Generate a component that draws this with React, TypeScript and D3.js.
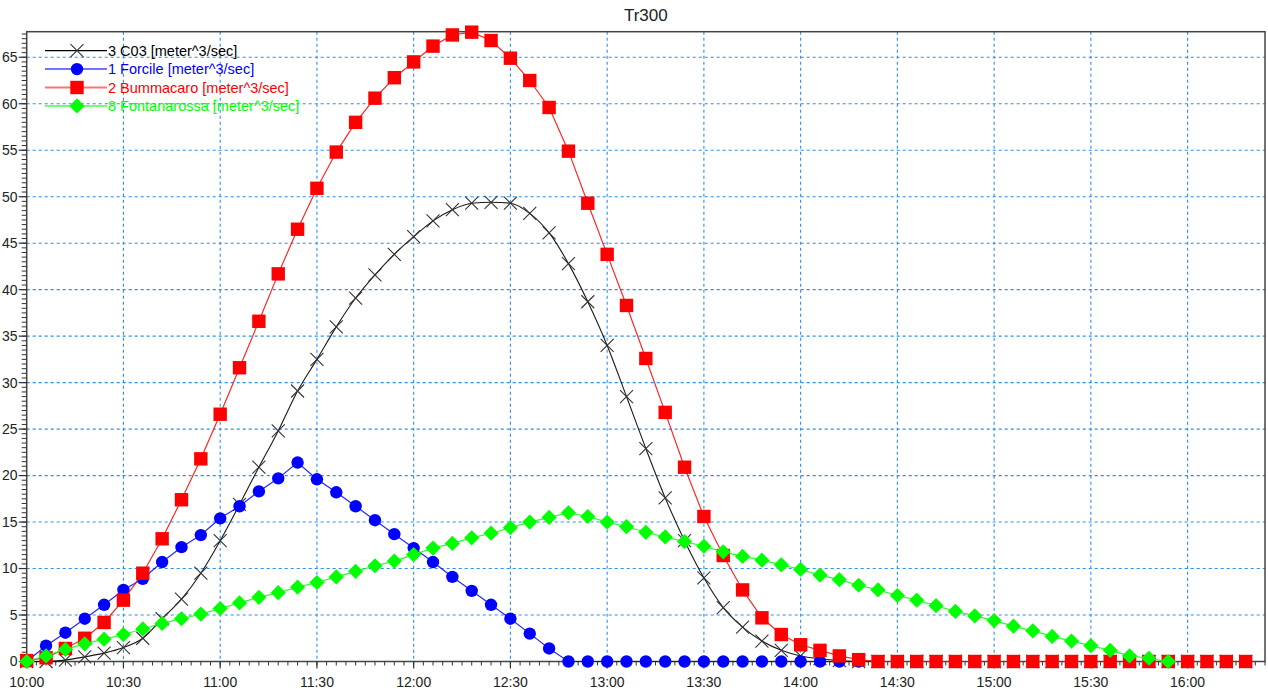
import React from "react";
import * as d3 from "d3";

const times = [
  "10:00","10:06","10:12","10:18","10:24","10:30","10:36","10:42","10:48","10:54",
  "11:00","11:06","11:12","11:18","11:24","11:30","11:36","11:42","11:48","11:54",
  "12:00","12:06","12:12","12:18","12:24","12:30","12:36","12:42","12:48","12:54",
  "13:00","13:06","13:12","13:18","13:24","13:30","13:36","13:42","13:48","13:54",
  "14:00","14:06","14:12","14:18","14:24","14:30","14:36","14:42","14:48","14:54",
  "15:00","15:06","15:12","15:18","15:24","15:30","15:36","15:42","15:48","15:54",
  "16:00","16:06","16:12","16:18",
];

const c03 = [
  0, 0, 0.15, 0.5, 0.9, 1.5, 2.5, 4.6, 6.7, 9.5,
  13.0, 16.9, 20.9, 24.8, 29.1, 32.5, 36.0, 39.1, 41.6, 43.8,
  45.7, 47.4, 48.6, 49.3, 49.4, 49.3, 48.2, 46.1, 42.8, 38.7,
  34.0, 28.5, 22.9, 17.6, 13.0, 9.0, 5.8, 3.7, 2.2, 1.2,
  0.6, 0.3, 0.1, 0, 0, 0, 0, 0, 0, 0,
  0, 0, 0, 0, 0, 0, 0, 0, 0, 0,
  0, 0, 0, 0,
];

const forcile = [
  0, 1.7, 3.1, 4.6, 6.1, 7.7, 8.9, 10.7, 12.3, 13.6,
  15.4, 16.7, 18.3, 19.7, 21.4, 19.6, 18.2, 16.7, 15.2, 13.7,
  12.2, 10.7, 9.1, 7.6, 6.1, 4.6, 3.0, 1.4, 0, 0,
  0, 0, 0, 0, 0, 0, 0, 0, 0, 0,
  0, 0, 0, 0, 0, 0, 0, 0, 0, 0,
  0, 0, 0, 0, 0, 0, 0, 0, 0, 0,
  0, 0, 0, 0,
];

const bummacaro = [
  0.1, 0.4, 1.4, 2.5, 4.2, 6.6, 9.5, 13.2, 17.4, 21.8,
  26.6, 31.6, 36.6, 41.7, 46.5, 50.9, 54.8, 58.0, 60.6, 62.8,
  64.5, 66.2, 67.4, 67.7, 66.8, 64.9, 62.5, 59.6, 54.9, 49.3,
  43.8, 38.3, 32.6, 26.8, 20.9, 15.6, 11.4, 7.7, 4.7, 2.9,
  1.8, 1.2, 0.6, 0.2, 0, 0, 0, 0, 0, 0,
  0, 0, 0, 0, 0, 0, 0, 0, 0, 0,
  0, 0, 0, 0,
];

const fontanarossa = [
  0, 0.6, 1.3, 1.9, 2.4, 2.9, 3.5, 4.1, 4.6, 5.1,
  5.7, 6.3, 6.9, 7.4, 8.0, 8.5, 9.1, 9.7, 10.3, 10.8,
  11.5, 12.2, 12.7, 13.3, 13.8, 14.4, 15.0, 15.5, 16.0, 15.6,
  15.0, 14.5, 13.9, 13.4, 12.9, 12.4, 11.8, 11.3, 10.9, 10.4,
  9.9, 9.3, 8.8, 8.2, 7.7, 7.1, 6.6, 6.0, 5.4, 4.9,
  4.4, 3.8, 3.3, 2.7, 2.2, 1.7, 1.2, 0.6, 0.35, 0,
];

const seriesNames = [
  "3 C03 [meter^3/sec]",
  "1 Forcile [meter^3/sec]",
  "2 Bummacaro [meter^3/sec]",
  "8 Fontanarossa [meter^3/sec]",
];
const seriesValues = [c03, forcile, bummacaro, fontanarossa];
const seriesColors = ["#000000", "#0000ff", "#ff0000", "#00ff00"];
const seriesMarkers = ["x", "circle", "square", "diamond"];

const yTicks = [0, 5, 10, 15, 20, 25, 30, 35, 40, 45, 50, 55, 60, 65];
const xTickLabels = ["10:00","10:30","11:00","11:30","12:00","12:30","13:00","13:30","14:00","14:30","15:00","15:30","16:00"];

const W = 1268, H = 689;
const L = 26.7, R = 1265, T = 31.7, B = 661.5;

const toMin = (s: string) => {
  const [h, m] = s.split(":").map(Number);
  return (h - 10) * 60 + m;
};

const x = d3.scaleLinear().domain([0, toMin("16:24")]).range([L, R]);
const y = d3.scaleLinear().domain([0, 67.75]).range([B, T]);

function Marker({ kind, cx, cy, color }: { kind: string; cx: number; cy: number; color: string }) {
  if (kind === "circle") return <circle cx={cx} cy={cy} r={6.2} fill={color} />;
  if (kind === "square") return <rect x={cx - 6.7} y={cy - 6.7} width={13.4} height={13.4} fill={color} />;
  if (kind === "diamond") {
    const s = 7.6;
    return <path d={`M${cx},${cy - s}L${cx + s},${cy}L${cx},${cy + s}L${cx - s},${cy}Z`} fill={color} />;
  }
  const s = 6.5;
  return (
    <path d={`M${cx - s},${cy - s}L${cx + s},${cy + s}M${cx - s},${cy + s}L${cx + s},${cy - s}`} stroke="#333" strokeWidth={1.1} fill="none" />
  );
}

export default function App() {
  const majorMin = d3.range(0, toMin("16:24") + 0.1, 30);
  const minorMin = d3.range(0, toMin("16:24") + 0.1, 3);
  const minorY = d3.range(0, 67.7, 0.5);
  const font = "'Liberation Sans', Arial, sans-serif";

  return (
    <svg width={W} height={H} style={{ position: "absolute", left: 0, top: 0, background: "#fff" }} fontFamily={font}>
      <rect x={0} y={0} width={W} height={H} fill="#fff" />
      <text x={(L + R) / 2} y={21} textAnchor="middle" fontSize={17} fill="#222">Tr300</text>

      {/* grid */}
      {yTicks.filter((v) => v > 0).map((v) => (
        <line key={"gy" + v} x1={L} x2={R} y1={y(v)} y2={y(v)} stroke="#2b8cf0" strokeWidth={1.1} strokeDasharray="3,3" />
      ))}
      {majorMin.filter((m) => m > 0).map((m) => (
        <line key={"gx" + m} x1={x(m)} x2={x(m)} y1={T} y2={B} stroke="#2b8cf0" strokeWidth={1.1} strokeDasharray="3,3" />
      ))}

      {/* frame */}
      <rect x={L} y={T} width={R - L} height={B - T} fill="none" stroke="#444" strokeWidth={1.5} />

      {/* y ticks */}
      {minorY.map((v) => (
        <line key={"my" + v} x1={L - 5} x2={L} y1={y(v)} y2={y(v)} stroke="#333" strokeWidth={1} />
      ))}
      {yTicks.map((v) => (
        <g key={"ty" + v}>
          <line x1={L - 8} x2={L} y1={y(v)} y2={y(v)} stroke="#333" strokeWidth={1.2} />
          <text x={17.5} y={y(v)} dy="0.35em" textAnchor="end" fontSize={14} fill="#222">{v}</text>
        </g>
      ))}

      {/* x ticks */}
      {minorMin.map((m) => (
        <line key={"mx" + m} x1={x(m)} x2={x(m)} y1={B} y2={B + 4} stroke="#333" strokeWidth={1} />
      ))}
      {majorMin.map((m, i) => (
        <g key={"tx" + m}>
          <line x1={x(m)} x2={x(m)} y1={B} y2={B + 7} stroke="#333" strokeWidth={1.2} />
          <text x={x(m)} y={687} textAnchor="middle" fontSize={14} fill="#222">{xTickLabels[i]}</text>
        </g>
      ))}

      {/* series */}
      {seriesValues.map((vals, si) => {
        const pts = vals.map((v, i) => [x(toMin(times[i])), y(v)] as [number, number]);
        const line = d3.line().curve(si === 0 ? d3.curveMonotoneX : d3.curveLinear)(pts) || "";
        return (
          <g key={"s" + si}>
            <path d={line} fill="none" stroke={seriesColors[si]} strokeWidth={si === 0 ? 1.1 : 1.2} strokeOpacity={si === 0 ? 0.9 : 0.85} />
            {pts.map((p, i) => (
              <Marker key={i} kind={seriesMarkers[si]} cx={p[0]} cy={p[1]} color={seriesColors[si]} />
            ))}
          </g>
        );
      })}

      {/* legend */}
      {seriesNames.map((name, i) => {
        const ly = 50.7 + i * 18.4;
        return (
          <g key={"lg" + i}>
            <line x1={45} x2={107} y1={ly} y2={ly} stroke={seriesColors[i]} strokeWidth={i === 0 ? 1.3 : 2} strokeOpacity={i === 0 ? 1 : 0.55} />
            <Marker kind={seriesMarkers[i]} cx={77} cy={ly} color={seriesColors[i]} />
            <text x={108} y={ly} dy="0.36em" fontSize={14.5} fill={seriesColors[i]}>{name}</text>
          </g>
        );
      })}
    </svg>
  );
}
